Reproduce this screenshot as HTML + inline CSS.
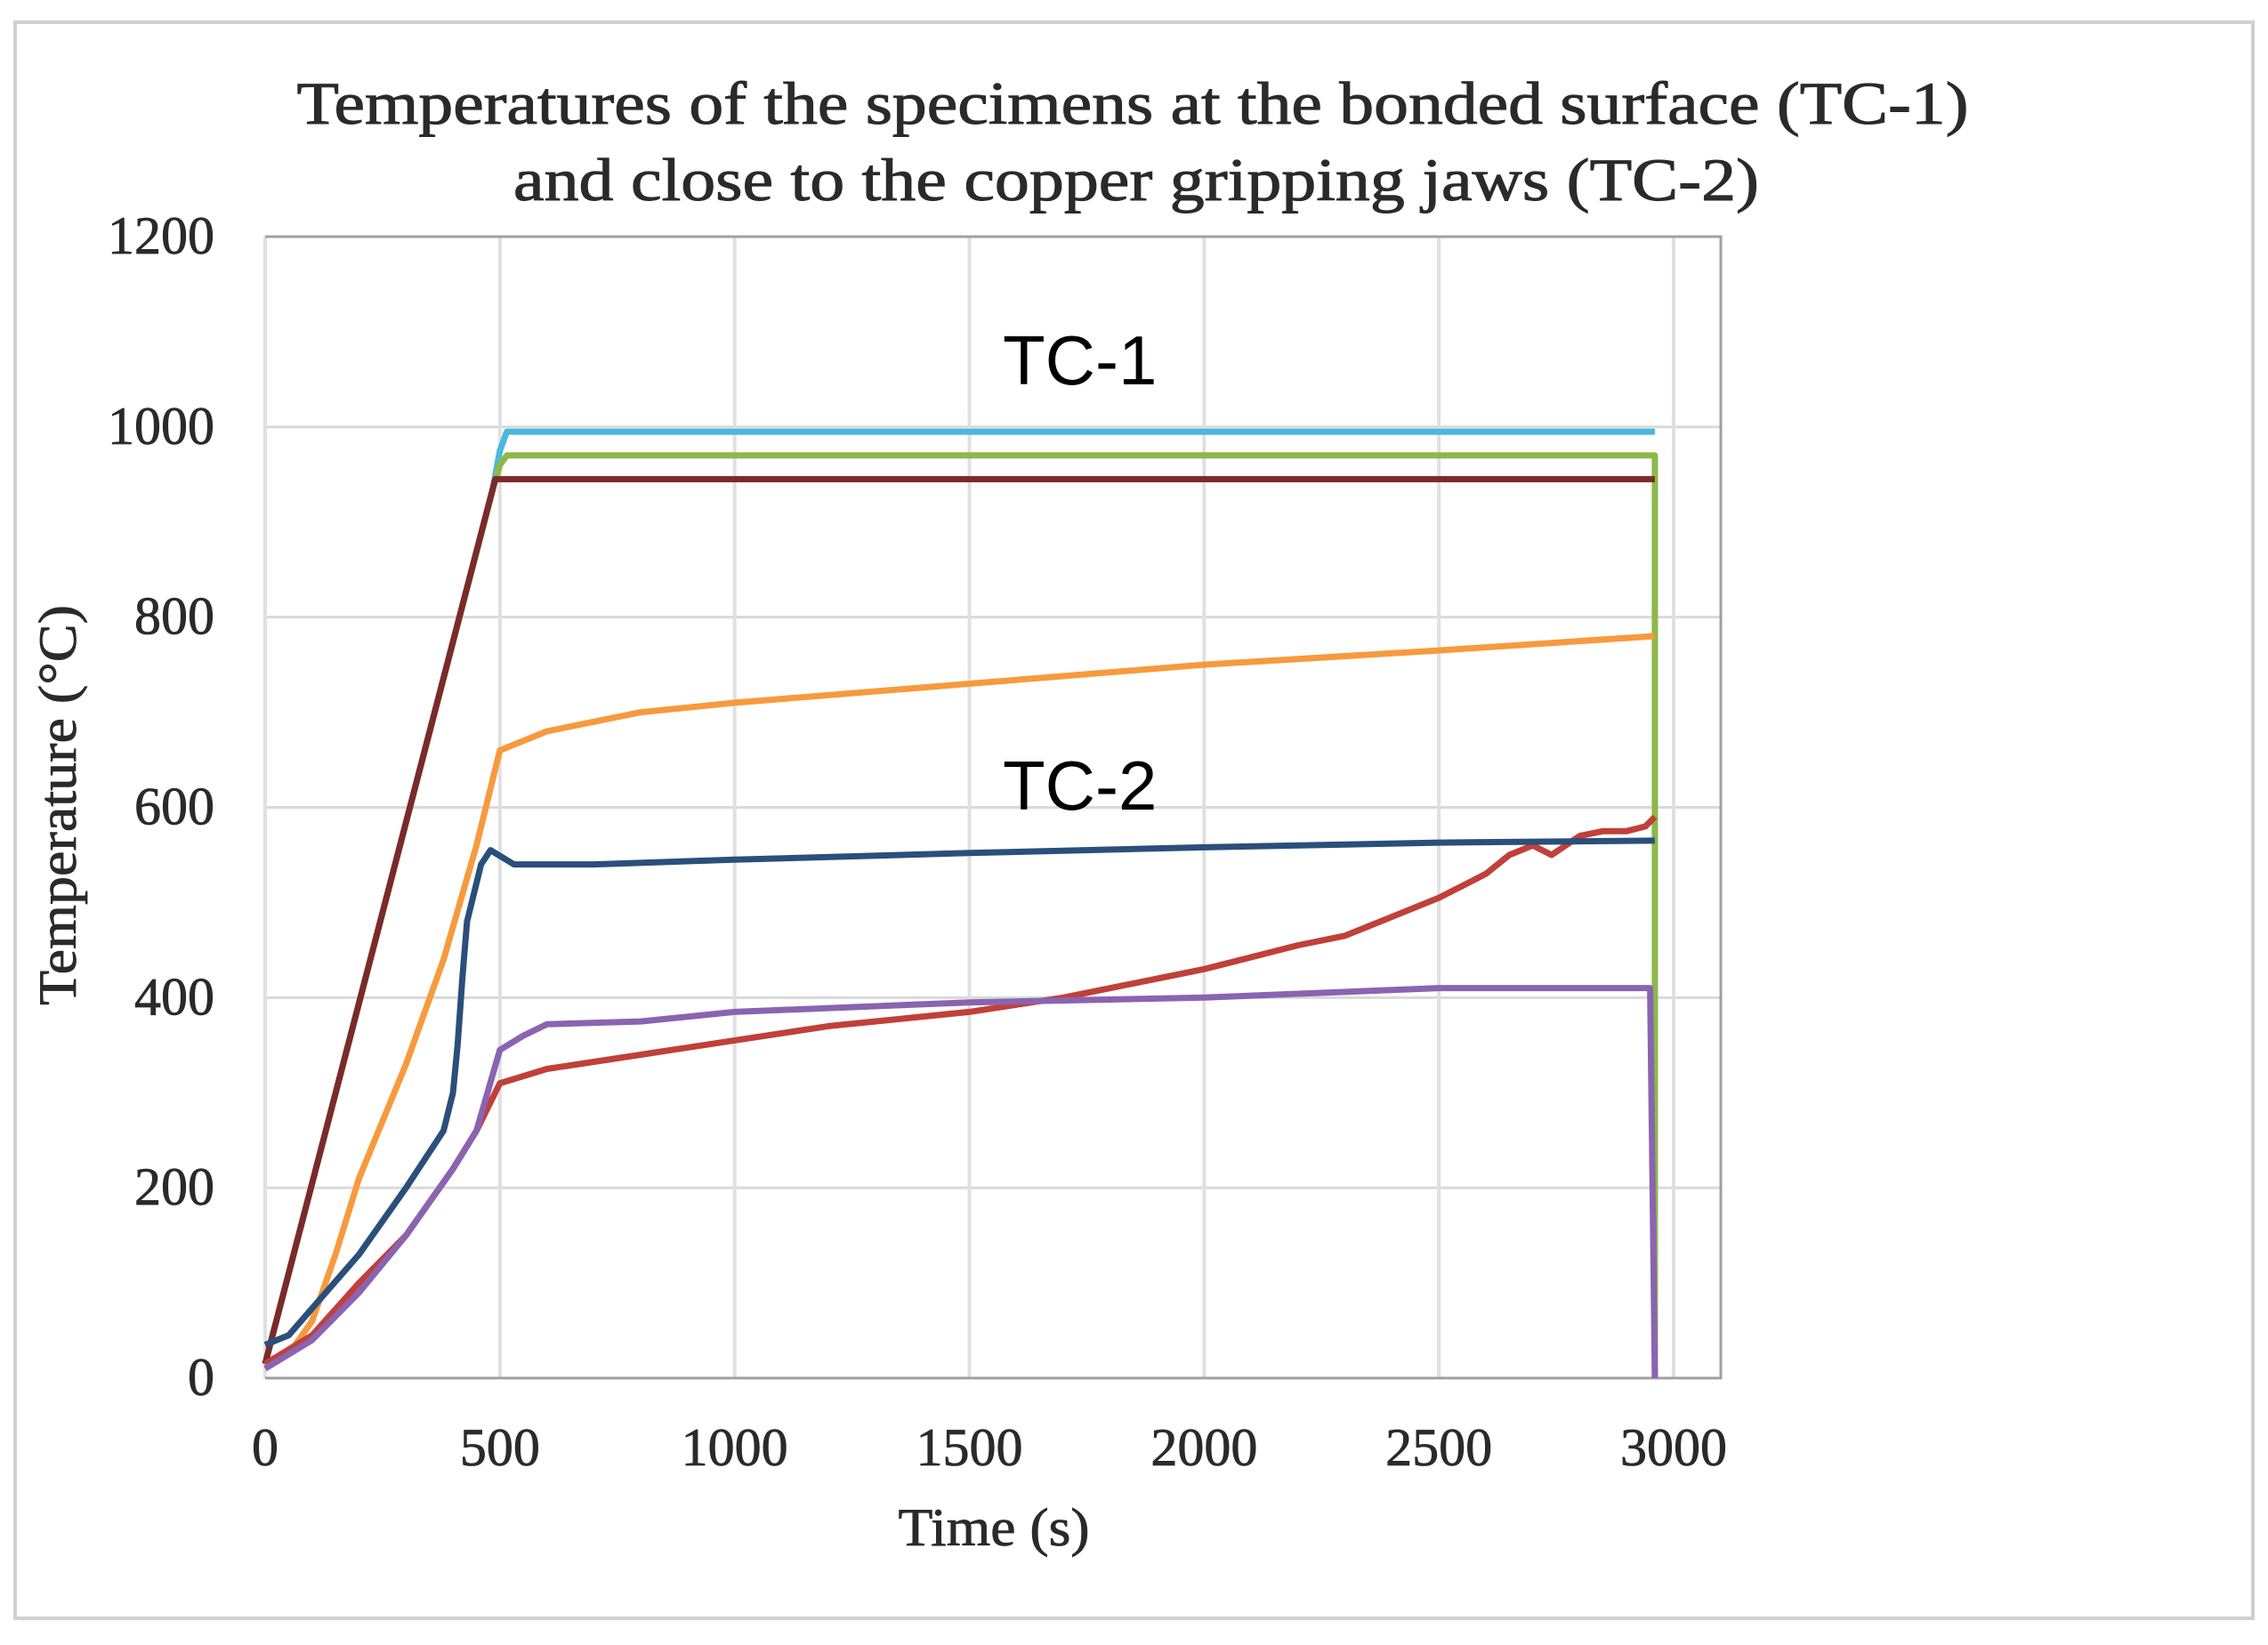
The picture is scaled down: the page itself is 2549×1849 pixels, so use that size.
<!DOCTYPE html>
<html><head><meta charset="utf-8"><style>
html,body{margin:0;padding:0;background:#fff;}
svg{display:block;}
</style></head><body>
<svg id="chart" width="2549" height="1849" viewBox="0 0 2549 1849" xmlns="http://www.w3.org/2000/svg">
<rect x="17" y="25" width="2515" height="1794" fill="#fff" stroke="#d0d0d0" stroke-width="4"/>
<text x="1273" y="139" text-anchor="middle" font-family="Liberation Serif, serif" font-size="68" fill="#2a2a2a" stroke="#2a2a2a" stroke-width="1" textLength="1879" lengthAdjust="spacingAndGlyphs">Temperatures of the specimens at the bonded surface (TC-1)</text>
<text x="1277" y="225" text-anchor="middle" font-family="Liberation Serif, serif" font-size="68" fill="#2a2a2a" stroke="#2a2a2a" stroke-width="1" textLength="1400" lengthAdjust="spacingAndGlyphs">and close to the copper gripping jaws (TC-2)</text>
<g id="grid"></g>
<g id="series"></g>
<g id="ticks"></g>
<text x="1117" y="1737" text-anchor="middle" font-family="Liberation Serif, serif" font-size="60" fill="#2a2a2a" stroke="#2a2a2a" stroke-width="0.8" textLength="215" lengthAdjust="spacingAndGlyphs">Time (s)</text>
<text transform="translate(85,905) rotate(-90)" text-anchor="middle" font-family="Liberation Serif, serif" font-size="60" fill="#2a2a2a" stroke="#2a2a2a" stroke-width="0.8" textLength="450" lengthAdjust="spacingAndGlyphs">Temperature (°C)</text>
<text x="1127" y="432" font-family="Liberation Sans, sans-serif" font-size="78" fill="#000">TC-1</text>
<text x="1127" y="910" font-family="Liberation Sans, sans-serif" font-size="78" fill="#000">TC-2</text>
</svg>
<script>
const xTicks=[0,500,1000,1500,2000,2500,3000];
const yTicks=[0,200,400,600,800,1000,1200];
const cyanX=[0,485,500,515,2960];
const cyanY=[15,935,975,995,995];
const greenX=[0,488,500,515,2960,2960];
const greenY=[15,940,960,970,970,0];
const brownX=[0,490,2960];
const brownY=[15,945,945];
const orangeX=[0,50,100,150,200,250,300,380,450,500,550,600,800,1000,1500,2000,2500,2960];
const orangeY=[10,25,60,130,210,270,330,440,560,660,670,680,700,710,730,750,765,780];
const navyX=[0,50,200,300,380,400,410,420,430,460,480,530,700,1000,1500,2000,2500,2960];
const navyY=[35,45,130,200,260,300,350,420,480,540,555,540,540,545,552,558,563,565];
const redX=[0,100,200,300,400,450,500,600,800,1000,1200,1500,1700,2000,2200,2300,2400,2500,2600,2650,2700,2740,2800,2850,2900,2940,2960];
const redY=[15,45,100,150,220,260,310,325,340,355,370,385,400,430,455,465,485,505,530,550,560,550,570,575,575,580,590];
const purpleX=[0,100,200,300,400,450,500,550,600,800,1000,1500,2000,2500,2950,2960];
const purpleY=[10,40,90,150,220,260,345,360,372,375,385,395,400,410,410,0];
const NS='http://www.w3.org/2000/svg';
const L=298,R=1934,T=266,B=1549,X0=298,X3=1881;
const sx=v=>X0+(X3-X0)*v/3000;
const sy=v=>B-(B-T)*v/1200;
const grid=document.getElementById('grid'),ticks=document.getElementById('ticks'),series=document.getElementById('series');
function mk(tag,attrs,parent){const e=document.createElementNS(NS,tag);for(const k in attrs)e.setAttribute(k,attrs[k]);parent.appendChild(e);return e;}
yTicks.forEach(v=>{
 const g=mk('line',{x1:L,x2:R,y1:sy(v),y2:sy(v),stroke:'#d9d9d9','stroke-width':3},grid);
 
 
 const t=mk('text',{x:241,y:sy(v)+19,'text-anchor':'end','font-family':'Liberation Serif, serif','font-size':60,fill:'#2a2a2a',stroke:'#2a2a2a','stroke-width':0.8},ticks);
 t.textContent=v;
 
 
});
xTicks.forEach(v=>{
 const g=mk('line',{x1:sx(v),x2:sx(v),y1:T,y2:B,stroke:'#e0e0e0','stroke-width':4},grid);
 
 
 const t=mk('text',{x:sx(v),y:1647,'text-anchor':'middle','font-family':'Liberation Serif, serif','font-size':60,fill:'#2a2a2a',stroke:'#2a2a2a','stroke-width':0.8},ticks);
 t.textContent=v;
 
 
});
const bd=mk('path',{d:`M${L},${T}H${R}V${B}H${L}`,fill:'none',stroke:'#a0a0a0','stroke-width':3},grid);


const S=[['cyan-series',cyanX,cyanY,'#4bb8dc'],['green-series',greenX,greenY,'#8db84a'],['brown-series',brownX,brownY,'#7a2a2a'],['orange-series',orangeX,orangeY,'#f79a3e'],['red-series',redX,redY,'#c0403a'],['purple-series',purpleX,purpleY,'#8a64b0'],['navy-series',navyX,navyY,'#2a4f7a']];
S.forEach(([n,xs,ys,c])=>{
 const d=xs.map((x,i)=>(i?'L':'M')+sx(x).toFixed(1)+','+sy(ys[i]).toFixed(1)).join('');
 const p=mk('path',{d:d,fill:'none',stroke:c,'stroke-width':7,'stroke-linejoin':'round'},series);
 
 
});
</script>
</body></html>
